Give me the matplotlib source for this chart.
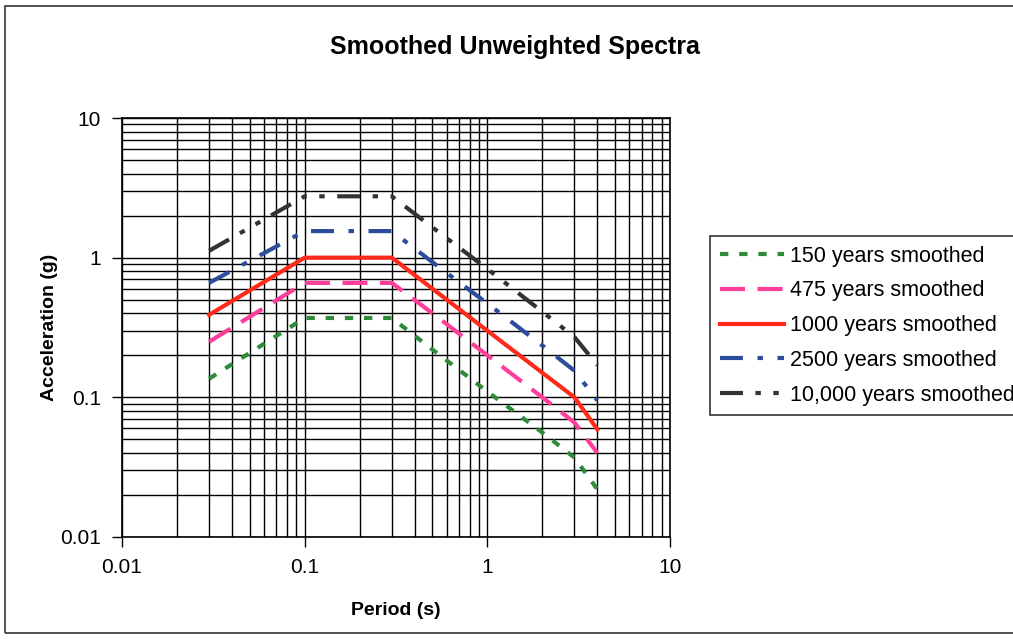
import numpy as np
import matplotlib.pyplot as plt
from matplotlib.patches import Rectangle
from matplotlib.ticker import LogLocator, NullFormatter, FixedLocator, FixedFormatter

plt.rcParams['font.family'] = ['Liberation Sans', 'DejaVu Sans']

# %% DATA
period = [0.03, 0.1, 0.3, 0.5, 1.0, 2.0, 3.0, 4.0]
sa_150 = [0.136, 0.37, 0.37, 0.22, 0.11, 0.056, 0.037, 0.022]
sa_475 = [0.25, 0.66, 0.66, 0.40, 0.20, 0.10, 0.066, 0.040]
sa_1000 = [0.39, 1.0, 1.0, 0.60, 0.30, 0.15, 0.10, 0.059]
sa_2500 = [0.66, 1.55, 1.55, 0.93, 0.47, 0.235, 0.155, 0.095]
sa_10000 = [1.12, 2.75, 2.75, 1.65, 0.83, 0.41, 0.27, 0.17]

labels = ['150 years smoothed', '475 years smoothed', '1000 years smoothed',
          '2500 years smoothed', '10,000 years smoothed']
x_ticks = [0.01, 0.1, 1, 10]
x_tick_labels = ['0.01', '0.1', '1', '10']
y_ticks = [0.01, 0.1, 1, 10]
y_tick_labels = ['0.01', '0.1', '1', '10']

# %% PLOT
fig = plt.figure(figsize=(10.13, 6.39), dpi=100)
fig.patches.append(Rectangle((5 / 1013, 6 / 639), 1.2, 627 / 639, transform=fig.transFigure,
                             fill=False, edgecolor='#333333', linewidth=1.2))
ax = fig.add_axes([122 / 1013, 1 - 537 / 639, 548 / 1013, 419 / 639])

ax.plot(period, sa_150, color='#2E8B3A', linewidth=3, linestyle=(0, (2, 2.6)), label=labels[0])
ax.plot(period, sa_475, color='#FF3D9A', linewidth=3, linestyle=(0, (6, 3)), label=labels[1])
ax.plot(period, sa_1000, color='#FF2A1A', linewidth=3, linestyle='-', label=labels[2])
ax.plot(period, sa_2500, color='#2C4C9C', linewidth=3, linestyle=(0, (5.5, 3.5, 1.3, 3.5)), label=labels[3])
ax.plot(period, sa_10000, color='#333333', linewidth=3, linestyle=(0, (5.5, 3, 1.3, 3, 1.3, 3)), label=labels[4])

ax.set_xscale('log')
ax.set_yscale('log')
ax.set_xlim(0.01, 10)
ax.set_ylim(0.01, 10)

ax.xaxis.set_major_locator(FixedLocator(x_ticks))
ax.xaxis.set_major_formatter(FixedFormatter(x_tick_labels))
ax.yaxis.set_major_locator(FixedLocator(y_ticks))
ax.yaxis.set_major_formatter(FixedFormatter(y_tick_labels))
ax.xaxis.set_minor_locator(LogLocator(base=10, subs=np.arange(2, 10)))
ax.yaxis.set_minor_locator(LogLocator(base=10, subs=np.arange(2, 10)))
ax.xaxis.set_minor_formatter(NullFormatter())
ax.yaxis.set_minor_formatter(NullFormatter())

ax.grid(True, which='both', color='black', linewidth=1.0)
ax.set_axisbelow(True)
ax.tick_params(which='major', direction='out', length=7, width=1, labelsize=15, pad=8)
ax.tick_params(which='minor', length=0)
for s in ax.spines.values():
    s.set_color('black')
    s.set_linewidth(1.2)

ax.set_xlabel('Period (s)', fontsize=14, fontweight='bold', labelpad=18)
ax.set_ylabel('Acceleration (g)', fontsize=14, fontweight='bold', labelpad=2)
fig.text(515 / 1013, 1 - 47 / 639, 'Smoothed Unweighted Spectra', ha='center', va='center',
         fontsize=18, fontweight='bold')

leg = ax.legend(loc='upper left', bbox_to_anchor=(710 / 1013, 1 - 236 / 639),
                bbox_transform=fig.transFigure, fontsize=15.5, frameon=True, fancybox=False,
                edgecolor='black', handlelength=3.0, handletextpad=0.25, labelspacing=0.64,
                borderpad=0.45, borderaxespad=0)
leg.get_frame().set_linewidth(1.2)

fig.savefig('out.png', dpi=100)
